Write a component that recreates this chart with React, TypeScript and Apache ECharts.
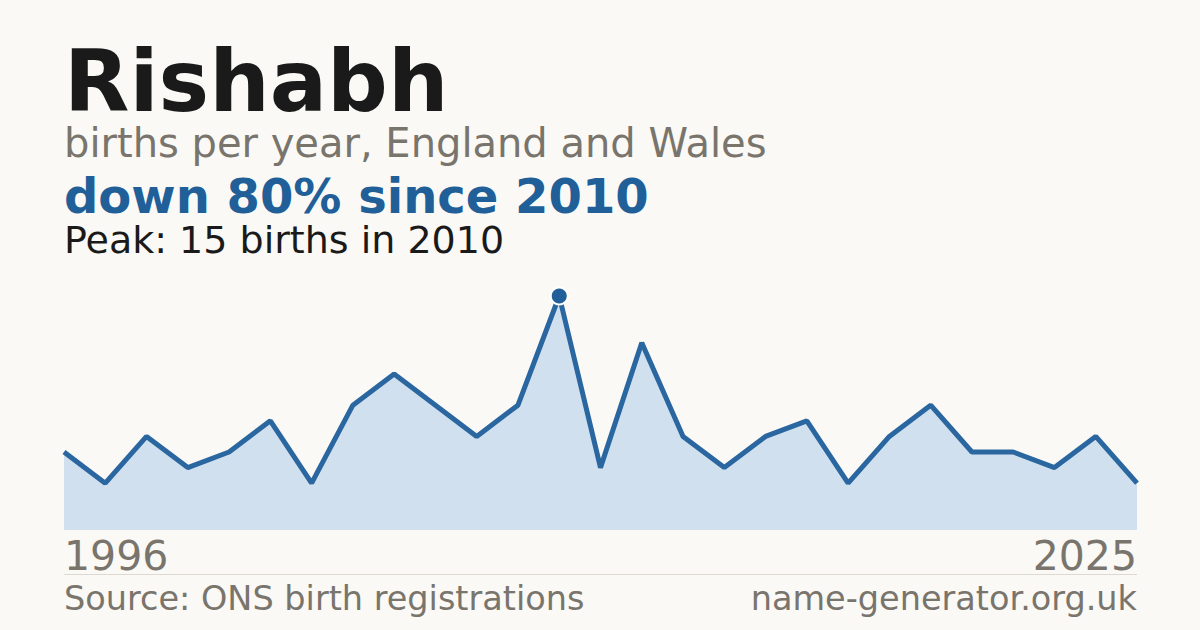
import React, { useRef, useEffect } from 'react';
import * as echarts from 'echarts';

// years with registrations (years with fewer than 3 births are not published)
const years = [
  '1996', '1997', '1998', '1999', '2001', '2002', '2003', '2005', '2006',
  '2007', '2008', '2009', '2010', '2011', '2012', '2013', '2014', '2015',
  '2016', '2017', '2018', '2019', '2021', '2022', '2023', '2024', '2025',
];
const births = [5, 3, 6, 4, 5, 7, 3, 8, 10, 8, 6, 8, 15, 4, 12, 6, 4, 6, 7, 3, 6, 8, 5, 5, 4, 6, 3];

const NAME = 'Rishabh';
const SUBTITLE = 'births per year, England and Wales';
const HEADLINE = 'down 80% since 2010';
const PEAK_TEXT = 'Peak: 15 births in 2010';
const SOURCE = 'Source: ONS birth registrations';
const SITE = 'name-generator.org.uk';

const BG = '#faf9f5';
const BLUE = '#215f99';
const GREY = '#79746c';
const FONT = '"DejaVu Sans", sans-serif';

const App: React.FC = () => {
  const chartRef = useRef<HTMLDivElement>(null);

  useEffect(() => {
    if (!chartRef.current) return;
    document.body.style.margin = '0';
    const chart = echarts.init(chartRef.current, undefined, { renderer: 'svg' });

    const peakIdx = births.indexOf(Math.max(...births));
    const lastIdx = years.length - 1;

    chart.setOption({
      animation: false,
      backgroundColor: BG,
      textStyle: { fontFamily: FONT },
      grid: { left: 64, right: 63, top: 272.6, bottom: 100 },
      xAxis: {
        type: 'category',
        data: years,
        boundaryGap: false,
        axisLine: { show: false },
        axisTick: { show: false },
        axisLabel: {
          interval: (i: number) => i === 0 || i === lastIdx,
          alignMinLabel: 'left',
          alignMaxLabel: 'right',
          color: GREY,
          fontSize: 41,
          fontFamily: FONT,
          margin: 5,
        },
      },
      yAxis: {
        type: 'value',
        min: 0,
        max: 16.5,
        show: false,
        splitLine: { show: false },
      },
      series: [
        {
          type: 'line',
          data: births,
          showSymbol: false,
          lineStyle: { color: '#2a669f', width: 5 },
          areaStyle: { color: '#d0e0ef', opacity: 1 },
          z: 2,
        },
        {
          type: 'scatter',
          data: [[peakIdx, births[peakIdx]]],
          symbol: 'circle',
          symbolSize: 17,
          itemStyle: { color: BLUE, opacity: 1, borderColor: '#ffffff', borderWidth: 2 },
          z: 3,
        },
      ],
      graphic: [
        {
          type: 'text', left: 64, top: 39,
          style: { text: NAME, fill: '#1a1a1a', font: `bold 85px ${FONT}` },
        },
        {
          type: 'text', left: 64, top: 122.5,
          style: { text: SUBTITLE, fill: GREY, font: `40px ${FONT}` },
        },
        {
          type: 'text', left: 64, top: 172,
          style: { text: HEADLINE, fill: BLUE, font: `bold 48px ${FONT}` },
        },
        {
          type: 'text', left: 64, top: 220.5,
          style: { text: PEAK_TEXT, fill: '#1a1a1a', font: `38px ${FONT}` },
        },
        {
          type: 'line',
          shape: { x1: 64, y1: 574.5, x2: 1137, y2: 574.5 },
          style: { stroke: '#ddd8d0', lineWidth: 1 },
        },
        {
          type: 'text', left: 64, top: 581,
          style: { text: SOURCE, fill: GREY, font: `33.5px ${FONT}` },
        },
        {
          type: 'text', right: 63, top: 581,
          style: { text: SITE, fill: GREY, font: `33.5px ${FONT}` },
        },
      ],
    });

    return () => {
      chart.dispose();
    };
  }, []);

  return <div ref={chartRef} style={{ width: 1200, height: 630 }} />;
};

export default App;
